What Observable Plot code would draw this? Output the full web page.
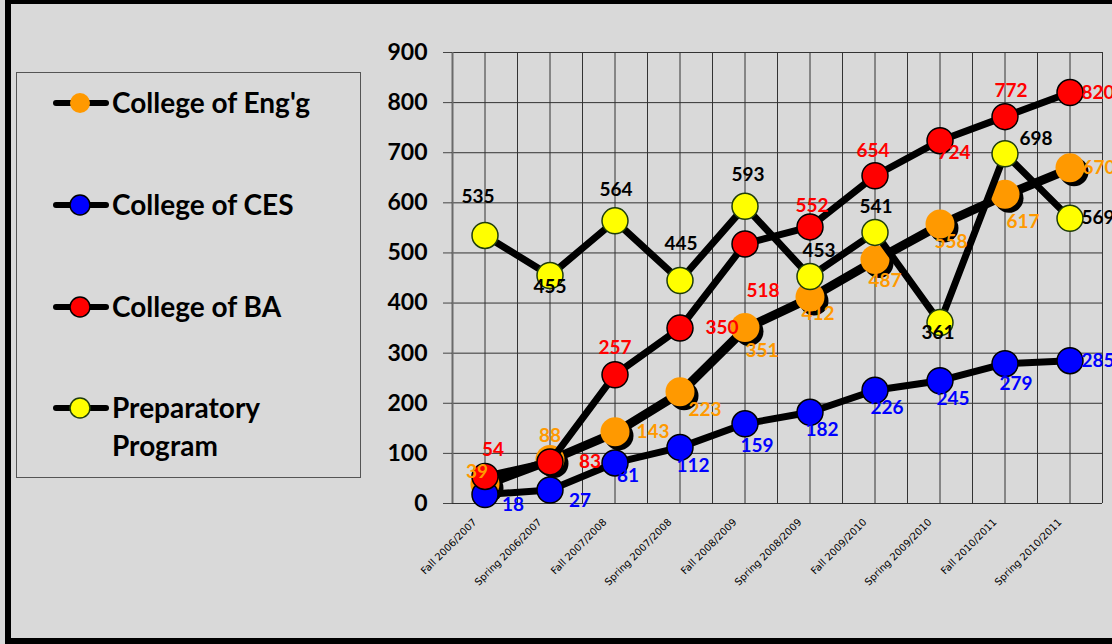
<!DOCTYPE html>
<html><head><meta charset="utf-8">
<script src="https://cdn.jsdelivr.net/npm/d3@7"></script>
<script src="https://cdn.jsdelivr.net/npm/@observablehq/plot@0.6"></script>
<style>
html,body{margin:0;padding:0;background:#d9d9d9;}
#wrap{position:relative;width:1112px;height:644px;overflow:hidden;background:#d9d9d9;font-family:Lato,"Open Sans",sans-serif;}
#frame{position:absolute;left:5px;top:0;width:1107px;height:644px;border-left:6px solid #000;border-top:4px solid #000;border-bottom:6px solid #000;box-sizing:border-box;}
#chart{position:absolute;left:0;top:0;}
#legend{position:absolute;left:16px;top:72px;width:345px;height:406px;border:1px solid #555;box-sizing:border-box;}
</style>
</head><body>
<div id="wrap"><div id="frame"></div><div id="chart"></div><div id="legend"></div></div>
<script>
const categories = ["Fall 2006/2007","Spring 2006/2007","Fall 2007/2008","Spring 2007/2008","Fall 2008/2009","Spring 2008/2009","Fall 2009/2010","Spring 2009/2010","Fall 2010/2011","Spring 2010/2011"];
const engg = [39, 88, 143, 223, 351, 412, 487, 558, 617, 670];
const ces  = [18, 27, 81, 112, 159, 182, 226, 245, 279, 285];
const ba   = [54, 83, 257, 350, 518, 552, 654, 724, 772, 820];
const prep = [535, 455, 564, 445, 593, 453, 541, 361, 698, 569];
const yTicks = [0, 100, 200, 300, 400, 500, 600, 700, 800, 900];
const seriesNames = ["College of Eng'g", "College of CES", "College of BA", "Preparatory Program"];
const seriesFill = ["#FF9900", "#0000FF", "#FF0000", "#FFFF00"];
const seriesStroke = ["none", "#000000", "#000000", "#1f3d0c"];
const labelColor = ["#FF9900", "#0000FF", "#FF0000", "#000000"];
// data-label offsets (pixels from the marker)
const enggLabelOffsets = [[-8,-12],[0,-23],[38,0],[25,18],[17,23],[8,17],[10,21],[11,18],[18,28],[29,0]];
const cesLabelOffsets  = [[28,10],[30,11],[13,13],[13,19],[12,22],[12,18],[12,18],[13,18],[11,20],[28,0]];
const baLabelOffsets   = [[8,-27],[40,0],[0,-27],[42,0],[18,47],[2,-21],[-2,-25],[14,12],[6,-26],[28,0]];
const prepLabelOffsets = [[-7,-38],[0,11],[1,-31],[1,-37],[3,-31],[9,-26],[1,-25],[-2,10],[31,-15],[28,0]];

const seriesValues = [engg, ces, ba, prep];
const seriesOffsets = [enggLabelOffsets, cesLabelOffsets, baLabelOffsets, prepLabelOffsets];
const idx = categories.map((c, i) => i);

const marks = [];
// gridlines
marks.push(Plot.ruleY(yTicks, {x1: -0.5, x2: 9.5, stroke: "#333", strokeWidth: 1}));
marks.push(Plot.ruleX(d3.range(-0.5, 9.75, 0.5), {y1: 0, y2: 900, stroke: "#333", strokeWidth: 1}));
marks.push(Plot.ruleX([-0.5], {y1: 0, y2: 900, stroke: "#6a6a6a", strokeWidth: 2}));
marks.push(Plot.axisY({ticks: yTicks, tickSize: 9, tickPadding: 16, fontSize: 23, fontWeight: "bold", stroke: "#444", color: "#000", label: null, fontFamily: "Lato"}));
// category labels
marks.push(Plot.text(idx, {x: d => d, y: () => 0, text: d => categories[d], rotate: -45, textAnchor: "end", dx: -10, dy: 17, fontSize: 10, fill: "#000", fontFamily: "DejaVu Sans"}));

seriesValues.forEach((vals, s) => {
  const rows = vals.map((v, i) => ({i, v}));
  if (s === 0) {
    marks.push(Plot.line(rows, {x: "i", y: "v", stroke: "#000", strokeWidth: 7, dx: 1.5, dy: 1.5}));
  }
  marks.push(Plot.line(rows, {x: "i", y: "v", stroke: "#000", strokeWidth: 7}));
  if (s === 0) {
    marks.push(Plot.dot(rows, {x: "i", y: "v", r: 14.5, fill: "#000", dx: 4, dy: 4}));
    marks.push(Plot.dot(rows, {x: "i", y: "v", r: 14.5, fill: seriesFill[s]}));
  } else {
    marks.push(Plot.dot(rows, {x: "i", y: "v", r: 13, fill: seriesFill[s], stroke: seriesStroke[s], strokeWidth: 1.5}));
  }
});
seriesValues.forEach((vals, s) => {
  vals.forEach((v, i) => {
    const [dx, dy] = seriesOffsets[s][i];
    marks.push(Plot.text([{i, v}], {x: "i", y: "v", text: d => String(d.v), dx, dy, fill: labelColor[s], fontSize: 19, fontWeight: "bold", fontFamily: "Lato"}));
  });
});

const chart = Plot.plot({
  width: 1112, height: 644,
  marginLeft: 452, marginRight: 10, marginTop: 52, marginBottom: 141,
  x: {type: "linear", domain: [-0.5, 9.5], axis: null},
  y: {domain: [0, 900], axis: null},
  style: {background: "transparent", fontFamily: "Lato", overflow: "hidden"},
  marks
});
document.getElementById("chart").appendChild(chart);

// legend
const lg = d3.select("#legend").append("svg").attr("width", 343).attr("height", 404)
  .style("position", "absolute").style("left", "0px").style("top", "0px");
const rowY = [30, 132, 234, 335];
seriesNames.forEach((name, s) => {
  const cy = rowY[s];
  lg.append("line").attr("x1", 39).attr("x2", 89).attr("y1", cy).attr("y2", cy)
    .attr("stroke", "#000").attr("stroke-width", 6).attr("stroke-linecap", "round");
  lg.append("circle").attr("cx", 63).attr("cy", cy).attr("r", 10)
    .attr("fill", seriesFill[s]).attr("stroke", seriesStroke[s]).attr("stroke-width", 1.5);
  const words = s === 3 ? ["Preparatory", "Program"] : [name];
  words.forEach((w, k) => {
    lg.append("text").attr("x", 95).attr("y", cy + 10 + k * 38).text(w)
      .attr("font-family", "Lato").attr("font-weight", "bold").attr("font-size", 28).attr("fill", "#000");
  });
});
</script>
</body></html>
